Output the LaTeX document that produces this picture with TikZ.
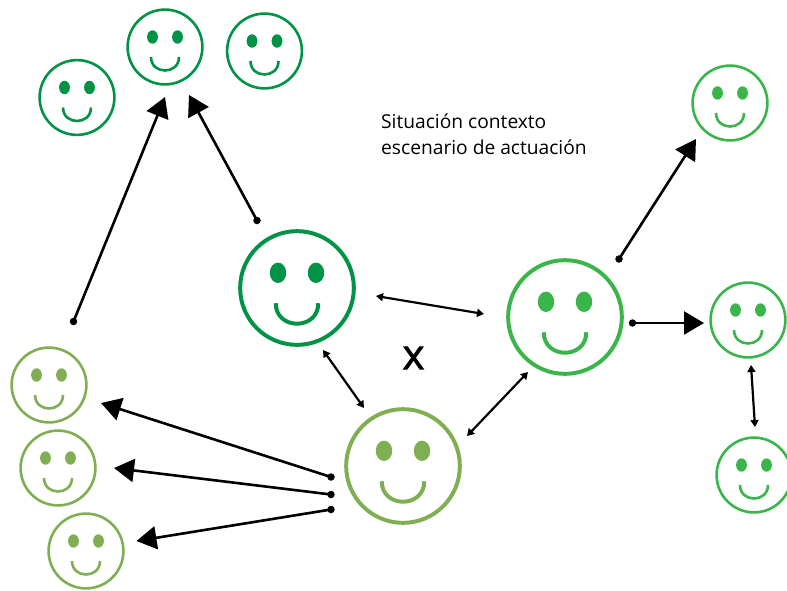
\documentclass[tikz,border=0pt]{standalone}
\usepackage{fontspec}
\setmainfont{Open Sans}
\newfontfamily\xmarkfont[FakeBold=1.6]{Open Sans}
\usetikzlibrary{arrows.meta}
\definecolor{gdark}{HTML}{009245}
\definecolor{gmid}{HTML}{39B54A}
\definecolor{glight}{HTML}{7FAF52}
\tikzset{
  x=1pt,y=-1pt,
  facering/.style={circle,draw=#1,fill=white,inner sep=0pt,outer sep=0pt},
  big arrow/.style={line width=2.6pt,-{Triangle[length=20pt,width=23pt]}},
  small arrow/.style={line width=2.2pt,{Triangle[length=7pt,width=8pt]}-{Triangle[length=7pt,width=8pt]}},
  enddot/.style={circle,fill=black,inner sep=0pt,minimum size=7.5pt},
  lbl/.style={anchor=base west,inner sep=0pt,font=\fontsize{19.2}{26}\selectfont,align=left}
}
% name, x, y, scale (1 = small face), colour
\newcommand{\smileface}[5]{%
  \node[facering=#5,line width=#4*2.6pt,minimum size=#4*74.8pt] (#1) at (#2,#3) {};
  \begin{scope}[shift={(#2,#3)},x=#4*1pt,y=-#4*1pt]
    \fill[#5] (-12.5,-10) ellipse [x radius=5.4,y radius=6.7];
    \fill[#5] (12.5,-10) ellipse [x radius=5.4,y radius=6.7];
    \draw[#5,line width=#4*2.6pt] (-14,10) .. controls (-14,28) and (14,28) .. (14,10);
  \end{scope}}
\begin{document}
\begin{tikzpicture}
\useasboundingbox (0,0) rectangle (787,590);
\smileface{da}{77}{97.5}{1}{gdark}
\smileface{db}{165}{47}{1}{gdark}
\smileface{dc}{264.5}{51}{1}{gdark}
\smileface{dbig}{297}{288}{1.52}{gdark}
\smileface{mbig}{565}{317}{1.52}{gmid}
\smileface{lbig}{403}{466}{1.52}{glight}
\smileface{ma}{730}{103}{1}{gmid}
\smileface{mb}{748}{320}{1}{gmid}
\smileface{mc}{754}{475}{1}{gmid}
\smileface{la}{49}{385}{1}{glight}
\smileface{lb}{58}{468}{1}{glight}
\smileface{lc}{86}{551}{1}{glight}
% dotted starts
\node[enddot] (s1) at (73.5,321.5) {};
\node[enddot] (s2) at (257,220.5) {};
\node[enddot] (s3) at (619,259) {};
\node[enddot] (s4) at (632.5,323) {};
\node[enddot] (s5) at (331,477) {};
\node[enddot] (s6) at (331,494.5) {};
\node[enddot] (s7) at (331,509.5) {};
% free ends
\coordinate (t1) at (165,97);
\coordinate (t2) at (189,95);
\coordinate (t3) at (696,139);
\coordinate (t4) at (704,323);
\coordinate (t5) at (101,403);
\coordinate (t6) at (114,468);
\coordinate (t7) at (136.5,541);
\coordinate (a1) at (376,296);
\coordinate (b1) at (484,314);
\coordinate (a2) at (323,350);
\coordinate (b2) at (364,408);
\coordinate (a3) at (467,436);
\coordinate (b3) at (528,372);
\coordinate (a4) at (751,365);
\coordinate (b4) at (755,427);
\draw[big arrow] (s1.center) -- (t1);
\draw[big arrow] (s2.center) -- (t2);
\draw[big arrow] (s3.center) -- (t3);
\draw[big arrow] (s4.center) -- (t4);
\draw[big arrow] (s5.center) -- (t5);
\draw[big arrow] (s6.center) -- (t6);
\draw[big arrow] (s7.center) -- (t7);
\draw[small arrow] (a1) -- (b1);
\draw[small arrow] (a2) -- (b2);
\draw[small arrow] (a3) -- (b3);
\draw[small arrow] (a4) -- (b4);
\node[lbl] (txt) at (381,154) {Situación contexto\\[0pt]escenario de actuación};
\node[inner sep=0pt,font=\xmarkfont\fontsize{42}{42}\selectfont] (xmark) at (413.5,358) {x};
\end{tikzpicture}
\end{document}
